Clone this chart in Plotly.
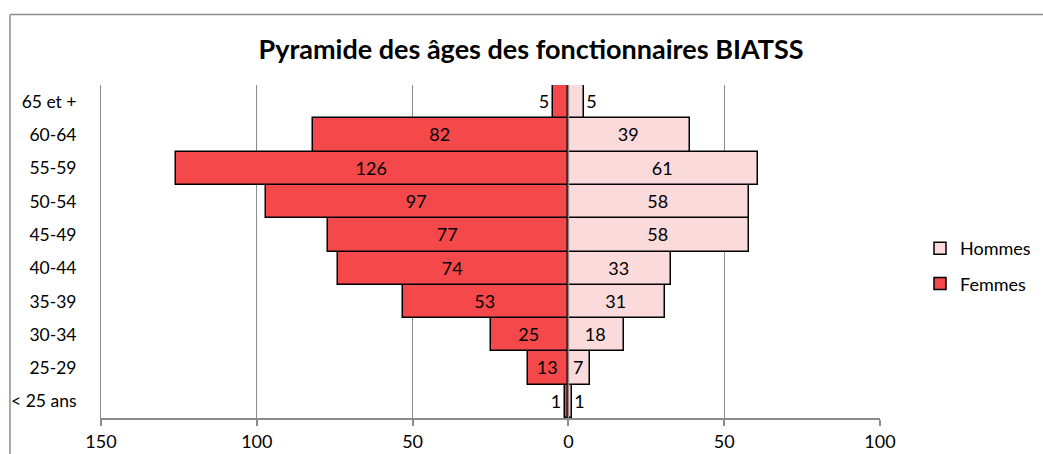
import plotly.graph_objects as go

categories = ["< 25 ans", "25-29", "30-34", "35-39", "40-44", "45-49", "50-54", "55-59", "60-64", "65 et +"]
hommes = [1, 7, 18, 31, 33, 58, 58, 61, 39, 5]
femmes = [1, 13, 25, 53, 74, 77, 97, 126, 82, 5]
tick_vals = [-150, -100, -50, 0, 50, 100]
tick_text = ["150", "100", "50", "0", "50", "100"]

FONT = "Lato, Carlito, Calibri, sans-serif"

W, H = 1043, 454
PL, PR, PT, PB = 101, 880, 85, 418

def positions(vals):
    return ["outside" if v <= 5 else "inside" for v in vals]

fig = go.Figure()
fig.add_trace(go.Bar(
    y=categories, x=hommes, orientation="h", name="Hommes",
    marker=dict(color="#FBDADC", line=dict(color="#000000", width=1.5)),
    text=[str(v) for v in hommes], textposition=positions(hommes),
    insidetextanchor="middle", constraintext="none", cliponaxis=False,
    textfont=dict(family=FONT, size=18, color="#000000"),
    legendgroup="h", legendrank=1, hoverinfo="skip",
))
fig.add_trace(go.Bar(
    y=categories, x=[-v for v in femmes], orientation="h", name="Femmes",
    marker=dict(color="#F4484A", line=dict(color="#000000", width=1.5)),
    text=[str(v) for v in femmes], textposition=positions(femmes),
    insidetextanchor="middle", constraintext="none", cliponaxis=False,
    textfont=dict(family=FONT, size=18, color="#000000"),
    legendgroup="f", legendrank=2, hoverinfo="skip",
))

pw, ph = PR - PL, PB - PT
bx = (10 - PL) / pw
by = (PB - 14.5) / ph
# outer chart border (Excel chart area): top and left edges visible
fig.add_shape(type="line", xref="paper", yref="paper", x0=bx, x1=1.3, y0=by, y1=by,
              line=dict(color="#8C8C8C", width=1.5), layer="below")
fig.add_shape(type="line", xref="paper", yref="paper", x0=bx, x1=bx, y0=-0.3, y1=by,
              line=dict(color="#8C8C8C", width=1.5), layer="below")
# vertical axis line drawn over the bars at 0
fig.add_shape(type="line", xref="x", yref="paper", x0=0, x1=0, y0=0, y1=1,
              line=dict(color="#8C8C8C", width=1.5), layer="above")

fig.update_layout(
    width=W, height=H,
    margin=dict(l=PL, r=W - PR, t=PT, b=H - PB, autoexpand=False),
    paper_bgcolor="white", plot_bgcolor="white",
    barmode="relative", bargap=0,
    font=dict(family=FONT, size=18, color="#000000"),
    title=dict(text="<b>Pyramide des âges des fonctionnaires BIATSS</b>",
               x=531 / W, xref="container", xanchor="center",
               y=1 - 50 / H, yref="container", yanchor="middle",
               font=dict(family=FONT, size=27, color="#000000")),
    legend=dict(x=(920 - PL) / pw, xanchor="left", y=(PB - 230) / ph, yanchor="top",
                traceorder="grouped", tracegroupgap=9,
                font=dict(family=FONT, size=18, color="#000000"),
                bgcolor="rgba(0,0,0,0)"),
    showlegend=True,
)
fig.update_xaxes(
    range=[-150, 100], tickvals=tick_vals, ticktext=tick_text,
    showgrid=True, gridcolor="#8C8C8C", gridwidth=1,
    zeroline=False,
    showline=True, linecolor="#8C8C8C", linewidth=1.5,
    ticks="outside", ticklen=6, tickcolor="#8C8C8C", tickwidth=1.5,
    ticklabelstandoff=1, automargin=False,
    tickfont=dict(family=FONT, size=18, color="#000000"),
    fixedrange=True,
)
fig.update_yaxes(
    type="category", categoryorder="array", categoryarray=categories,
    showgrid=False, zeroline=False, showline=True, linecolor="#8C8C8C", linewidth=1,
    ticks="", ticklabelstandoff=20, automargin=False,
    tickfont=dict(family=FONT, size=17.5, color="#000000"),
    fixedrange=True,
)

fig.write_html("out.html", config={"displayModeBar": False},
               post_script="document.body.style.margin='0';document.body.style.overflow='hidden';")
